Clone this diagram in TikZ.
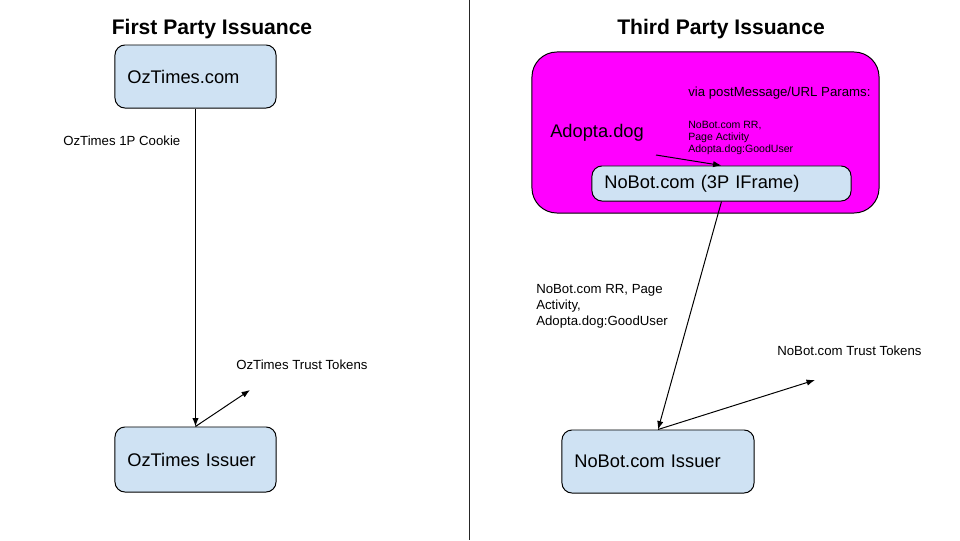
\documentclass[tikz,border=0pt]{standalone}
\usepackage{fontspec}
\setmainfont{Liberation Sans}
\usetikzlibrary{arrows.meta}

\begin{document}
\begin{tikzpicture}[x=0.025cm, y=-0.025cm,
  box/.style={draw=black, fill=boxBlue, rounded corners=0.25cm, line width=0.7pt,
    inner xsep=0.31cm, align=left, font=\fontsize{13}{15}\selectfont},
  lbl/.style={font=\fontsize{9.4}{11.3}\selectfont, align=left, inner sep=0pt},
  conn/.style={line width=0.7pt, -{Latex[length=6pt,width=4.5pt]}}]

% Colori
\definecolor{boxBlue}{HTML}{CFE2F3}
\definecolor{siteMag}{HTML}{FF00FF}

% Area del disegno
\fill[white] (0,0) rectangle (960,540);
\useasboundingbox (0,0) rectangle (960,540);

% Separatore centrale
\draw[black!85, line width=0.7pt] (469,0) -- (469,540);

% Titoli
\node[font=\bfseries\fontsize{15}{18}\selectfont] (titleFirst) at (212,29) {First Party Issuance};
\node[font=\bfseries\fontsize{15}{18}\selectfont] (titleThird) at (721,29) {Third Party Issuance};

% Lato sinistro: emissione first party
\node[box, text width=3.405cm, minimum height=1.575cm] (oz) at (195.5,76.5) {OzTimes.com};
\node[box, text width=3.405cm, minimum height=1.625cm] (ozIss) at (195.5,459.5) {OzTimes Issuer};
\coordinate (ozTok) at (250,390);

\node[lbl, anchor=west] (ozCookie) at (63,141) {OzTimes 1P Cookie};
\node[lbl, anchor=west] (ozTokLbl) at (236,365) {OzTimes Trust Tokens};

\draw[conn] (oz.south) -- (ozIss.north);
\draw[conn] (ozIss.north) -- (ozTok);

% Lato destro: emissione third party
\node[draw=black, fill=siteMag, line width=0.7pt, rounded corners=0.625cm,
  minimum width=8.675cm, minimum height=4.025cm] (site) at (705.5,132.5) {};
\node[anchor=west, inner sep=0pt, font=\fontsize{13}{15}\selectfont] (adopta) at (550,133) {Adopta.dog};
\node[lbl, anchor=west] (via) at (688,93) {via postMessage/URL Params:};
\node[anchor=north west, inner sep=0pt, align=left, font=\fontsize{7.5}{8.5}\selectfont] (params) at (688,121)
  {NoBot.com RR,\\Page Activity\\Adopta.dog:GoodUser};
\node[box, text width=5.855cm, minimum height=0.875cm] (iframe) at (721.5,183.5) {NoBot.com (3P IFrame)};
\coordinate (adoptaTail) at (656,155);

\node[box, text width=4.18cm, minimum height=1.575cm] (nbIss) at (658,461.5) {NoBot.com Issuer};
\coordinate (nbTok) at (815,380);

\node[lbl, anchor=north west] (rrLbl) at (536,284) {NoBot.com RR, Page\\Activity,\\Adopta.dog:GoodUser};
\node[lbl, anchor=west] (nbTokLbl) at (777,351) {NoBot.com Trust Tokens};

\draw[conn] (adoptaTail) -- (iframe.north);
\draw[conn] (iframe.south) -- (nbIss.north);
\draw[conn] (nbIss.north) -- (nbTok);

\end{tikzpicture}
\end{document}
